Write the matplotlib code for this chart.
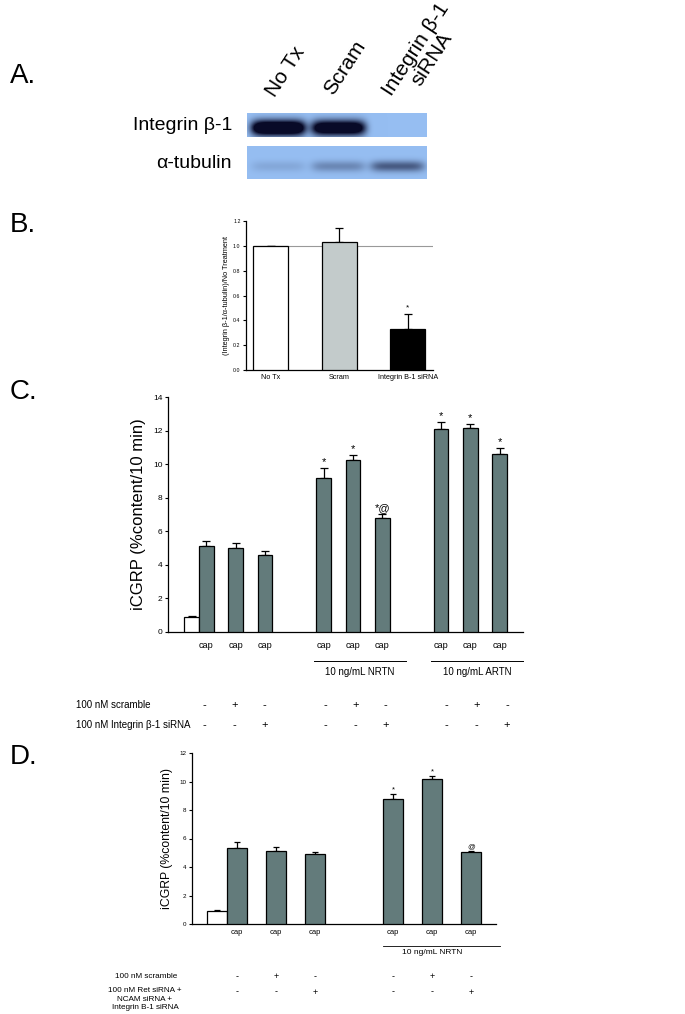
import numpy as np
import matplotlib
matplotlib.use("Agg")
import matplotlib.pyplot as plt
import matplotlib.transforms as mtransforms

plt.rcParams['font.family'] = ['Liberation Sans', 'DejaVu Sans']

W, H = 685, 1014

# ---- data ----
blot_lanes = ["No Tx", "Scram", "Integrin \u03b2-1\nsiRNA"]
blot_rows = ["Integrin \u03b2-1", "\u03b1-tubulin"]
integrin_band = [1.7, 1.5, 0.0]
tubulin_band = [0.12, 0.3, 0.55]

b_labels = ["No Tx", "Scram", "Integrin B-1 siRNA"]
b_vals = [1.0, 1.03, 0.33]
b_err = [0.0, 0.11, 0.12]
b_colors = ["white", "#c3cbcb", "black"]
b_marks = ["", "", "*"]

c_pos = [-0.5, 0, 1, 2, 4, 5, 6, 8, 9, 10]
c_vals = [0.9, 5.1, 5.0, 4.6, 9.2, 10.25, 6.8, 12.1, 12.15, 10.6]
c_err = [0.07, 0.35, 0.3, 0.22, 0.6, 0.27, 0.22, 0.42, 0.22, 0.35]
c_marks = ["", "", "", "", "*", "*", "*@", "*", "*", "*"]
c_scramble = ["-", "+", "-", "-", "+", "-", "-", "+", "-"]
c_integrin = ["-", "-", "+", "-", "-", "+", "-", "-", "+"]

d_pos = [-0.5, 0, 1, 2, 4, 5, 6]
d_vals = [0.88, 5.35, 5.15, 4.9, 8.75, 10.15, 5.05]
d_err = [0.07, 0.4, 0.25, 0.15, 0.35, 0.25, 0.07]
d_marks = ["", "", "", "", "*", "*", "@"]
d_scramble = ["-", "+", "-", "-", "+", "-"]
d_triple = ["-", "-", "+", "-", "-", "+"]

BAR = "#637b7b"


def fy(py):
    return 1 - py / H


def add_ax(l, t, r, b):
    return fig.add_axes([l / W, 1 - b / H, (r - l) / W, (b - t) / H])


def style(ax, fs):
    for s in ["top", "right"]:
        ax.spines[s].set_visible(False)
    for s in ["left", "bottom"]:
        ax.spines[s].set_linewidth(0.9)
    ax.tick_params(axis="y", direction="out", length=2.5, width=0.8, labelsize=fs, pad=1.5)
    ax.tick_params(axis="x", length=0)


def bars(ax, pos, vals, err, colors, width, capsize, marks, mfs, moff):
    ax.bar(pos, vals, width=width, color=colors, edgecolor="black", linewidth=0.9, zorder=3)
    ax.errorbar(pos, vals, yerr=[np.zeros(len(err)), err], fmt="none", ecolor="black",
                elinewidth=0.9, capsize=capsize, capthick=0.9, zorder=2)
    for p, v, e, m in zip(pos, vals, err, marks):
        if m:
            ax.text(p, v + e + moff, m, ha="center", va="bottom", fontsize=mfs)


fig = plt.figure(figsize=(W / 100, H / 100), dpi=100)

# ---- panel A: blot ----
fig.text(10 / W, fy(83), "A.", fontsize=20, va="baseline")


def strip(t, b, band, vsig, vc):
    nx, ny = 180, int(b - t)
    xs = np.arange(nx)[None, :]
    ys = np.arange(ny)[:, None]
    a = np.zeros((ny, nx))
    for cx, amp in zip([31, 91, 150], band):
        prof = np.exp(-((xs - cx) / 27.0) ** 6) * np.exp(-((ys - ny * vc) / vsig) ** 2)
        a += amp * prof
    a = np.clip(a, 0, 1)
    bg = np.array([150, 190, 242]) / 255
    dk = np.array([8, 10, 40]) / 255
    img = bg[None, None, :] * (1 - a[..., None]) + dk[None, None, :] * a[..., None]
    ax = add_ax(247, t, 427, b)
    ax.imshow(img, aspect="auto", interpolation="bilinear")
    ax.axis("off")


strip(113, 137, integrin_band, 7.5, 0.6)
strip(146, 179, tubulin_band, 5.5, 0.6)
fig.text(232 / W, fy(125), blot_rows[0], fontsize=14, ha="right", va="center")
fig.text(232 / W, fy(163), blot_rows[1], fontsize=14, ha="right", va="center")
for x, y, lab in zip([278, 336, 411], [100, 98, 109], blot_lanes):
    fig.text(x / W, fy(y), lab, fontsize=15, rotation=57, ha="left", va="bottom",
             rotation_mode="anchor", linespacing=1.0, multialignment="center")

# ---- panel B ----
fig.text(10 / W, fy(232), "B.", fontsize=20, va="baseline")
axb = add_ax(246, 221, 433, 370)
style(axb, 3.8)
xb = np.arange(len(b_vals))
axb.hlines(1.0, -0.25, 2.37, color="#999999", linewidth=0.8, zorder=1)
bars(axb, xb, b_vals, b_err, b_colors, 0.51, 3, b_marks, 6, 0.02)
axb.set_xlim(-0.36, 2.37)
axb.set_ylim(0, 1.2)
axb.set_yticks(np.arange(0, 1.21, 0.2))
axb.set_yticklabels(["%.1f" % v for v in np.arange(0, 1.21, 0.2)])
axb.set_xticks(xb)
axb.set_xticklabels(b_labels, fontsize=5.2)
axb.tick_params(axis="x", pad=3)
axb.set_ylabel("(Integrin \u03b2-1/\u03b1-tubulin)/No Treatment", fontsize=5.3, labelpad=2)

# ---- panel C ----
fig.text(10 / W, fy(399), "C.", fontsize=20, va="baseline")
axc = add_ax(168, 397, 523, 632)
style(axc, 6)
cc = ["white"] + [BAR] * (len(c_vals) - 1)
bars(axc, c_pos, c_vals, c_err, cc, 0.5, 3, c_marks, 8, 0.05)
axc.set_xlim(-1.31, 10.8)
axc.set_ylim(0, 14)
axc.set_yticks(range(0, 15, 2))
axc.set_xticks([])
axc.set_ylabel("iCGRP (%content/10 min)", fontsize=12, labelpad=5)
tc = mtransforms.blended_transform_factory(axc.transData, fig.transFigure)
for p in c_pos[1:]:
    axc.text(p, fy(645), "cap", transform=tc, ha="center", va="center", fontsize=6.6)
for x0, x1, lab in [(3.66, 6.8, "10 ng/mL NRTN"), (7.66, 10.8, "10 ng/mL ARTN")]:
    axc.plot([x0, x1], [fy(661), fy(661)], transform=tc, color="black", linewidth=0.7,
             clip_on=False)
    axc.text(x0 + 0.4, fy(672), lab, transform=tc, ha="left", va="center", fontsize=7)
fig.text(76 / W, fy(705), "100 nM scramble", fontsize=7, va="center")
fig.text(76 / W, fy(725), "100 nM Integrin \u03b2-1 siRNA", fontsize=7, va="center")
for p, s1, s2 in zip(c_pos[1:], c_scramble, c_integrin):
    sx = -0.085 + 1.034 * p
    axc.text(sx, fy(705), s1, transform=tc, ha="center", va="center", fontsize=8)
    axc.text(sx, fy(725), s2, transform=tc, ha="center", va="center", fontsize=8)

# ---- panel D ----
fig.text(10 / W, fy(764), "D.", fontsize=20, va="baseline")
axd = add_ax(192, 753, 496, 924)
style(axd, 4.5)
dc = ["white"] + [BAR] * (len(d_vals) - 1)
bars(axd, d_pos, d_vals, d_err, dc, 0.51, 2.5, d_marks, 5.5, 0.05)
axd.set_xlim(-1.15, 6.64)
axd.set_ylim(0, 12)
axd.set_yticks(range(0, 13, 2))
axd.set_xticks([])
axd.set_ylabel("iCGRP (%content/10 min)", fontsize=8.8, labelpad=5)
td = mtransforms.blended_transform_factory(axd.transData, fig.transFigure)
for p in d_pos[1:]:
    axd.text(p, fy(933), "cap", transform=td, ha="center", va="center", fontsize=5.5)
axd.plot([3.75, 6.74], [fy(946), fy(946)], transform=td, color="black", linewidth=0.6,
         clip_on=False)
axd.text(5.0, fy(953), "10 ng/mL NRTN", transform=td, ha="center", va="center", fontsize=6)
fig.text(115 / W, fy(977), "100 nM scramble", fontsize=5.9, va="center")
fig.text(145 / W, fy(987.5), "100 nM Ret siRNA +\nNCAM siRNA +\nIntegrin B-1 siRNA",
         fontsize=5.9, ha="center", va="top", multialignment="center", linespacing=1.25)
for p, s1, s2 in zip(d_pos[1:], d_scramble, d_triple):
    axd.text(p, fy(977), s1, transform=td, ha="center", va="center", fontsize=6.5)
    axd.text(p, fy(992), s2, transform=td, ha="center", va="center", fontsize=6.5)

fig.savefig("out.png", dpi=100, facecolor="white")
